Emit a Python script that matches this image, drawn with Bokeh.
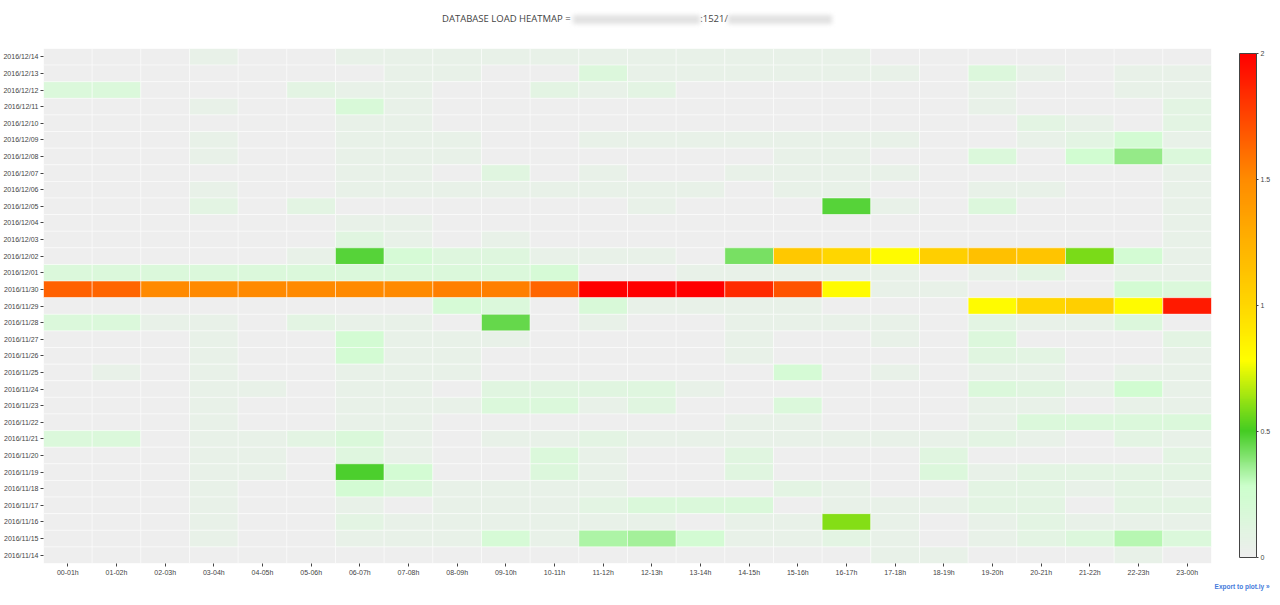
import numpy as np
from bokeh.plotting import figure
from bokeh.models import (ColumnDataSource, LinearColorMapper, ColorBar, FixedTicker,
                          FactorRange, Div, Title)
from bokeh.layouts import column
from bokeh.embed import file_html
from bokeh.resources import INLINE

# ---------------- data ----------------
hours = ["00-01h", "01-02h", "02-03h", "03-04h", "04-05h", "05-06h", "06-07h", "07-08h",
         "08-09h", "09-10h", "10-11h", "11-12h", "12-13h", "13-14h", "14-15h", "15-16h",
         "16-17h", "17-18h", "18-19h", "19-20h", "20-21h", "21-22h", "22-23h", "23-00h"]

# rows listed from top (latest) to bottom (earliest)
dates = ["2016/12/14", "2016/12/13", "2016/12/12", "2016/12/11", "2016/12/10", "2016/12/09",
         "2016/12/08", "2016/12/07", "2016/12/06", "2016/12/05", "2016/12/04", "2016/12/03",
         "2016/12/02", "2016/12/01", "2016/11/30", "2016/11/29", "2016/11/28", "2016/11/27",
         "2016/11/26", "2016/11/25", "2016/11/24", "2016/11/23", "2016/11/22", "2016/11/21",
         "2016/11/20", "2016/11/19", "2016/11/18", "2016/11/17", "2016/11/16", "2016/11/15",
         "2016/11/14"]

load = [
    [0, 0, 0, .05, 0, 0, .05, .05, .05, .05, .05, .05, .05, .05, .05, .05, .05, 0, 0, 0, 0, 0, 0, 0],
    [0, 0, 0, 0, 0, 0, 0, .05, .05, 0, 0, .15, .05, .05, .05, .05, .05, .05, 0, .15, .05, 0, .05, .05],
    [.16, .16, 0, 0, 0, .1, .05, .05, 0, 0, .1, .05, .1, 0, 0, 0, 0, 0, 0, .05, 0, 0, .05, .05],
    [0, 0, 0, .05, 0, 0, .18, .05, 0, 0, 0, 0, 0, 0, 0, 0, 0, 0, 0, .05, 0, 0, 0, .1],
    [0, 0, 0, 0, 0, 0, .05, .05, 0, 0, 0, 0, 0, 0, 0, 0, 0, 0, 0, 0, .1, .05, 0, .1],
    [0, 0, 0, .05, 0, 0, .05, .05, .05, 0, 0, .05, .05, .05, .05, .05, .05, .05, 0, 0, .05, .1, .22, .05],
    [0, 0, 0, .05, 0, 0, .05, .05, .05, 0, 0, 0, 0, 0, 0, .05, .05, 0, 0, .16, 0, .24, .37, .16],
    [0, 0, 0, 0, 0, 0, .05, .05, 0, .12, 0, .05, 0, 0, .05, .05, .05, .05, 0, 0, 0, 0, 0, .05],
    [0, 0, 0, .05, 0, 0, .05, .05, .05, .05, .05, .05, .05, .05, 0, .05, .05, 0, 0, .05, .05, 0, 0, .05],
    [0, 0, 0, .1, 0, .1, 0, 0, 0, 0, 0, 0, .05, 0, 0, 0, .47, .05, 0, .15, 0, 0, 0, .05],
    [0, 0, 0, 0, 0, 0, .05, .05, 0, 0, 0, 0, 0, 0, 0, 0, 0, 0, 0, 0, 0, 0, 0, .05],
    [0, 0, 0, 0, 0, 0, .12, .05, 0, .05, 0, 0, 0, 0, 0, 0, 0, 0, 0, 0, 0, 0, 0, .05],
    [0, 0, 0, 0, 0, .05, .47, .2, .14, .14, .05, .05, .05, 0, .42, 1.1, 1.0, .8, 1.05, 1.15, 1.13, .58, .22, .05],
    [.16, .16, .16, .16, .16, .16, .16, .16, .16, .16, .2, 0, 0, .05, .05, .05, .05, .05, 0, .05, .1, 0, .05, .05],
    [1.65, 1.64, 1.5, 1.5, 1.5, 1.5, 1.5, 1.5, 1.54, 1.54, 1.64, 2.0, 2.0, 2.0, 1.85, 1.7, .8, .05, .05, 0, 0, 0, .22, .16],
    [0, 0, 0, 0, 0, 0, 0, 0, .2, .16, 0, .18, .05, .05, .05, .05, 0, 0, 0, .8, 1.0, 1.05, .8, 1.9],
    [.16, .16, .05, .05, 0, .1, .05, .05, 0, .45, 0, .05, 0, 0, .05, .05, .05, .05, 0, .1, .05, .05, .15, 0],
    [0, 0, 0, .05, 0, 0, .22, .05, .05, .05, 0, 0, 0, 0, .05, 0, 0, .05, 0, .15, 0, 0, 0, .1],
    [0, 0, 0, .05, 0, 0, .22, .05, .05, 0, 0, 0, 0, 0, .05, 0, 0, 0, 0, .12, .1, 0, 0, .05],
    [0, .05, 0, .05, 0, 0, .05, .05, .05, 0, 0, 0, 0, 0, 0, .21, 0, .05, 0, .05, .05, 0, .05, .05],
    [0, 0, 0, .05, .05, 0, .05, .05, 0, .12, .12, .12, .13, .05, 0, 0, 0, 0, 0, .16, .12, .05, .24, .05],
    [0, 0, 0, .05, 0, 0, .05, .05, .05, .16, .16, .05, .12, 0, 0, .16, 0, 0, 0, .05, .05, 0, .05, .05],
    [0, 0, 0, .05, 0, 0, .05, .05, 0, 0, 0, 0, 0, 0, .05, .05, 0, 0, 0, .05, .16, .16, .16, .16],
    [.16, .16, 0, .05, .05, .1, .17, .05, 0, .05, .05, .1, .05, .05, .05, .05, .05, .05, .05, .1, .05, 0, .1, .05],
    [0, 0, 0, .05, .05, 0, .13, .05, 0, 0, .16, .05, 0, 0, .12, 0, 0, 0, .12, 0, 0, 0, 0, .1],
    [0, 0, 0, .05, .05, 0, .49, .22, 0, 0, .15, .05, 0, 0, .12, 0, 0, 0, .15, .05, .1, .1, .1, .1],
    [0, 0, 0, .05, 0, 0, .22, .15, .05, .05, .05, .05, 0, 0, 0, .1, .05, 0, 0, .1, .1, .05, .1, .05],
    [0, 0, 0, .05, 0, 0, .05, 0, .05, .05, .05, .1, .17, .17, .17, 0, .05, .05, .05, .1, .1, 0, .1, .1],
    [0, 0, 0, .05, 0, 0, .1, .05, .05, .05, .05, .05, .05, 0, .05, .05, .6, .05, 0, .05, .1, .05, .05, .05],
    [0, 0, 0, .05, 0, 0, .05, .05, .05, .2, .05, .33, .35, .22, .05, .05, .1, .05, 0, .05, .1, .15, .32, .16],
    [0, 0, 0, 0, 0, 0, 0, 0, 0, 0, 0, 0, 0, 0, 0, 0, 0, .05, .05, 0, 0, 0, .05, 0],
]

color_ticks = [0, 0.5, 1, 1.5, 2]

# ---------------- colour scale ----------------
stops = [(0.0, (238, 238, 238)), (0.14, (204, 255, 204)), (0.25, (68, 204, 34)),
         (0.39, (255, 255, 0)), (0.5, (255, 215, 0)), (0.75, (255, 140, 0)), (1.0, (255, 0, 0))]
palette = []
for i in range(256):
    t = i / 255
    for (a, ca), (b, cb) in zip(stops[:-1], stops[1:]):
        if a <= t <= b:
            f = (t - a) / (b - a)
            c = [round(ca[k] + f * (cb[k] - ca[k])) for k in range(3)]
            palette.append("#%02x%02x%02x" % tuple(c))
            break
mapper = LinearColorMapper(palette=palette, low=0, high=2)

xs, ys, vs = [], [], []
for d, row in zip(dates, load):
    for h, v in zip(hours, row):
        xs.append(h); ys.append(d); vs.append(v)
src = ColumnDataSource(dict(x=xs, y=ys, v=vs))

FONT = "Liberation Sans"
FW, FH = 1168, 515

p = figure(x_range=FactorRange(*hours), y_range=FactorRange(*dates[::-1]),
           frame_width=FW, frame_height=FH, output_backend="svg", toolbar_location=None,
           min_border_left=36, min_border_right=60, min_border_top=0, min_border_bottom=34)
p.outline_line_color = None
p.grid.grid_line_color = None
p.rect(x="x", y="y", width=1, height=1, source=src,
       fill_color={"field": "v", "transform": mapper},
       line_color="white", line_alpha=0.45, line_width=1)

for ax in (p.xaxis[0], p.yaxis[0]):
    ax.axis_line_color = None
    ax.major_tick_line_color = "#444444"
    ax.major_tick_out = 3
    ax.major_tick_in = 0
    ax.major_label_text_font_size = "7px"
    ax.major_label_text_font = FONT
    ax.major_label_text_color = "#444444"
    ax.major_label_standoff = 2

cb = ColorBar(color_mapper=mapper, ticker=FixedTicker(ticks=color_ticks),
              major_label_overrides={t: str(t) for t in color_ticks},
              width=17, height=504, padding=0, margin=0, location=(FW + 28, 6),
              bar_line_color="#444444", bar_line_width=1,
              major_tick_line_color="#444444", major_tick_out=2, major_tick_in=0,
              label_standoff=2, major_label_text_font_size="7px",
              major_label_text_font=FONT, major_label_text_color="#444444",
              background_fill_alpha=0, border_line_color=None)
p.add_layout(cb)

export = Title(text="Export to plot.ly \u00bb", align="right", offset=-58,
               standoff=4, text_font_size="6.5px", text_font=FONT,
               text_font_style="bold", text_color="#447adb")
p.add_layout(export, "below")

blur = ("display:inline-block;height:9px;background:#e2e2e2;filter:blur(2px);"
        "vertical-align:middle;")
title_html = (
    "<div style=\"width:1264px;text-align:center;font-family:'Open Sans',sans-serif;"
    "font-size:9.5px;color:#444;padding-top:7px;white-space:nowrap;\">"
    "DATABASE LOAD HEATMAP = "
    f"<span style=\"{blur}width:127px;\"></span>:1521/"
    f"<span style=\"{blur}width:104px;\"></span></div>")
title = Div(text=title_html, width=1264, height=38)

layout = column(title, p, spacing=0)
open("out.html", "w").write(file_html(layout, INLINE))
